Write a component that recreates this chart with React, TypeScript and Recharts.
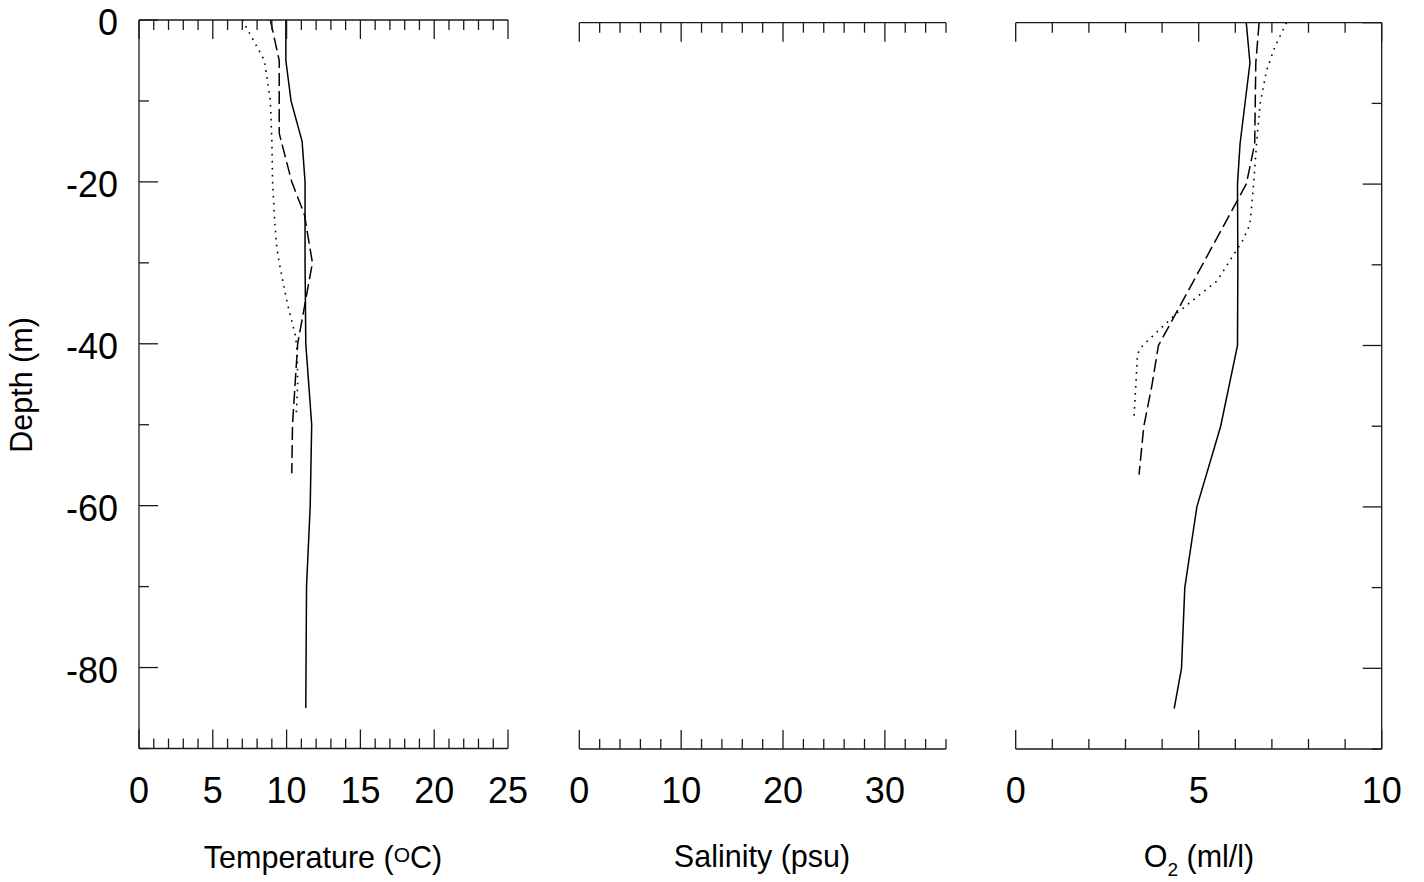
import { LineChart, Line, XAxis, YAxis } from 'recharts';

// depth profiles (depth in m, negative downward)
const tempSolidDepth = [0, -5, -10, -15, -20, -30, -40, -50, -60, -70, -85];
const tempSolid = [9.95, 9.95, 10.3, 11.05, 11.25, 11.25, 11.3, 11.7, 11.6, 11.35, 11.3];

const tempDashDepth = [0, -5, -14, -20, -24, -30, -40, -50, -56];
const tempDash = [8.9, 9.5, 9.5, 10.35, 11.2, 11.75, 10.75, 10.4, 10.35];

const tempDotDepth = [0, -5, -10, -15, -20, -25, -28, -30, -35, -39, -41, -45, -49];
const tempDot = [7.0, 8.5, 8.9, 9.0, 9.05, 9.2, 9.33, 9.5, 10.05, 10.6, 10.72, 10.75, 10.65];

const o2SolidDepth = [0, -5, -15, -20, -30, -40, -50, -60, -70, -80, -85];
const o2Solid = [6.3, 6.4, 6.13, 6.06, 6.07, 6.06, 5.6, 4.95, 4.62, 4.53, 4.33];

const o2DashDepth = [0, -5, -15, -20, -40, -45, -50, -56];
const o2Dash = [6.65, 6.56, 6.53, 6.3, 3.9, 3.72, 3.5, 3.37];

const o2DotDepth = [0, -3, -6, -10, -15, -20, -25, -27, -32, -36, -40, -41, -45, -49];
const o2Dot = [7.4, 7.08, 6.85, 6.68, 6.58, 6.5, 6.4, 6.2, 5.5, 4.4, 3.47, 3.33, 3.28, 3.23];

// axis ticks
const depthTicks = [-90, -80, -70, -60, -50, -40, -30, -20, -10, 0];
const depthLabels = [0, -20, -40, -60, -80];
const tempTicks = [0, 1, 2, 3, 4, 5, 6, 7, 8, 9, 10, 11, 12, 13, 14, 15, 16, 17, 18, 19, 20, 21, 22, 23, 24, 25];
const tempLabels = [0, 5, 10, 15, 20, 25];
const salTicks = [0, 2, 4, 6, 8, 10, 12, 14, 16, 18, 20, 22, 24, 26, 28, 30, 32, 34, 36];
const salLabels = [0, 10, 20, 30];
const o2Ticks = [0, 1, 2, 3, 4, 5, 6, 7, 8, 9, 10];
const o2Labels = [0, 5, 10];

const FONT = 'Arial, "Liberation Sans", Helvetica, sans-serif';
const INK = '#1a1a1a';
const AXIS_W = 1.3;
const LINE_W = 1.5;
const TITLE_SIZE = 30.5;

const rows = (depths: number[], values: number[]) =>
  depths.map((d, i) => ({ depth: d, value: values[i] }));

const isMajor = (every: number) => (v: number) => v % every === 0;

const topTick = (major: (v: number) => boolean) => (p: any) => {
  const len = major(p.payload.value) ? 19 : 10;
  return <line x1={p.x} x2={p.x} y1={p.y} y2={p.y + len} stroke={INK} strokeWidth={AXIS_W} />;
};

const bottomTick = (major: (v: number) => boolean, labels: number[]) => (p: any) => {
  const v = p.payload.value;
  const len = major(v) ? 19 : 10;
  return (
    <g>
      <line x1={p.x} x2={p.x} y1={p.y} y2={p.y - len} stroke={INK} strokeWidth={AXIS_W} />
      {labels.includes(v) && (
        <text x={p.x} y={p.y + 54} textAnchor="middle" fontSize={36} fontFamily={FONT} fill="#000">
          {v}
        </text>
      )}
    </g>
  );
};

const leftTick = (p: any) => {
  const v = p.payload.value;
  const len = v % 20 === 0 ? 19 : 10;
  return (
    <g>
      <line x1={p.x} x2={p.x + len} y1={p.y} y2={p.y} stroke={INK} strokeWidth={AXIS_W} />
      {depthLabels.includes(v) && (
        <text x={p.x - 21} y={p.y + 15} textAnchor="end" fontSize={36} fontFamily={FONT} fill="#000">
          {v}
        </text>
      )}
    </g>
  );
};

const rightTick = (p: any) => {
  const len = p.payload.value % 20 === 0 ? 19 : 10;
  return <line x1={p.x} x2={p.x - len} y1={p.y} y2={p.y} stroke={INK} strokeWidth={AXIS_W} />;
};

const TempTitle = () => (
  <text x={323} y={868} textAnchor="middle" fontSize={TITLE_SIZE} fontFamily={FONT} fill="#000">
    Temperature (
    <tspan fontSize={21} dy={-6}>O</tspan>
    <tspan dy={6}>C)</tspan>
  </text>
);

const SalTitle = () => (
  <text x={222} y={867} textAnchor="middle" fontSize={TITLE_SIZE} fontFamily={FONT} fill="#000">
    Salinity (psu)
  </text>
);

const O2Title = () => (
  <text x={219} y={867} textAnchor="middle" fontSize={TITLE_SIZE} fontFamily={FONT} fill="#000">
    O
    <tspan fontSize={19} dy={9}>2</tspan>
    <tspan dy={-9}> (ml/l)</tspan>
  </text>
);

const DepthTitle = () => (
  <text
    transform="translate(32,385) rotate(-90)"
    textAnchor="middle"
    fontSize={TITLE_SIZE}
    fontFamily={FONT}
    fill="#000"
  >
    Depth (m)
  </text>
);

const axisLine = { stroke: INK, strokeWidth: AXIS_W };

export default function App() {
  return (
    <div style={{ position: 'absolute', left: 0, top: 0, width: 1424, height: 882, background: '#fff' }}>
      <div style={{ position: 'absolute', left: 0, top: 0 }}>
        <LineChart width={560} height={882} margin={{ top: 19, bottom: 132.5, left: 138, right: 52 }}>
          <XAxis xAxisId="top" orientation="top" type="number" dataKey="value" domain={[0, 25]}
            allowDataOverflow ticks={tempTicks} interval={0} height={1} tickSize={0} tickMargin={0}
            axisLine={axisLine} tickLine={false} tick={topTick(isMajor(5))} />
          <XAxis xAxisId="bottom" orientation="bottom" type="number" dataKey="value" domain={[0, 25]}
            allowDataOverflow ticks={tempTicks} interval={0} height={1} tickSize={0} tickMargin={0}
            axisLine={axisLine} tickLine={false} tick={bottomTick(isMajor(5), tempLabels)}
            label={<TempTitle />} />
          <YAxis type="number" domain={[-90, 0]} allowDataOverflow ticks={depthTicks} interval={0} width={1}
            tickSize={0} tickMargin={0} axisLine={axisLine} tickLine={false} tick={leftTick}
            label={<DepthTitle />} />
          <Line xAxisId="bottom" data={rows(tempSolidDepth, tempSolid)} dataKey="depth" stroke="#000"
            strokeWidth={LINE_W} dot={false} isAnimationActive={false} />
          <Line xAxisId="bottom" data={rows(tempDashDepth, tempDash)} dataKey="depth" stroke="#000"
            strokeWidth={LINE_W} strokeDasharray="13 5" dot={false} isAnimationActive={false} />
          <Line xAxisId="bottom" data={rows(tempDotDepth, tempDot)} dataKey="depth" stroke="#000"
            strokeWidth={1.6} strokeDasharray="1.6 5.4" dot={false} isAnimationActive={false} />
        </LineChart>
      </div>

      <div style={{ position: 'absolute', left: 540, top: 0 }}>
        <LineChart width={440} height={882} margin={{ top: 21.7, bottom: 132, left: 39.3, right: 34 }}>
          <XAxis xAxisId="top" orientation="top" type="number" dataKey="value" domain={[0, 36]}
            allowDataOverflow ticks={salTicks} interval={0} height={1} tickSize={0} tickMargin={0}
            axisLine={axisLine} tickLine={false} tick={topTick(isMajor(10))} />
          <XAxis xAxisId="bottom" orientation="bottom" type="number" dataKey="value" domain={[0, 36]}
            allowDataOverflow ticks={salTicks} interval={0} height={1} tickSize={0} tickMargin={0}
            axisLine={axisLine} tickLine={false} tick={bottomTick(isMajor(10), salLabels)}
            label={<SalTitle />} />
          <YAxis type="number" domain={[-90, 0]} allowDataOverflow hide width={0} />
        </LineChart>
      </div>

      <div style={{ position: 'absolute', left: 980, top: 0 }}>
        <LineChart width={444} height={882} margin={{ top: 21.7, bottom: 132, left: 35.7, right: 41.3 }}>
          <XAxis xAxisId="top" orientation="top" type="number" dataKey="value" domain={[0, 10]}
            allowDataOverflow ticks={o2Ticks} interval={0} height={1} tickSize={0} tickMargin={0}
            axisLine={axisLine} tickLine={false} tick={topTick(isMajor(5))} />
          <XAxis xAxisId="bottom" orientation="bottom" type="number" dataKey="value" domain={[0, 10]}
            allowDataOverflow ticks={o2Ticks} interval={0} height={1} tickSize={0} tickMargin={0}
            axisLine={axisLine} tickLine={false} tick={bottomTick(isMajor(5), o2Labels)}
            label={<O2Title />} />
          <YAxis orientation="right" type="number" domain={[-90, 0]} allowDataOverflow ticks={depthTicks}
            interval={0} width={1} tickSize={0} tickMargin={0} axisLine={axisLine} tickLine={false}
            tick={rightTick} />
          <Line xAxisId="bottom" data={rows(o2SolidDepth, o2Solid)} dataKey="depth" stroke="#000"
            strokeWidth={LINE_W} dot={false} isAnimationActive={false} />
          <Line xAxisId="bottom" data={rows(o2DashDepth, o2Dash)} dataKey="depth" stroke="#000"
            strokeWidth={LINE_W} strokeDasharray="13 5" dot={false} isAnimationActive={false} />
          <Line xAxisId="bottom" data={rows(o2DotDepth, o2Dot)} dataKey="depth" stroke="#000"
            strokeWidth={1.6} strokeDasharray="1.6 5.4" dot={false} isAnimationActive={false} />
        </LineChart>
      </div>
    </div>
  );
}
